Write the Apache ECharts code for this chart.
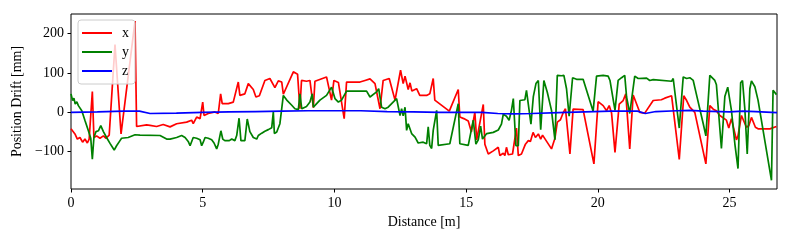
<!DOCTYPE html>
<html>
<head>
<meta charset="utf-8">
<script src="https://cdn.jsdelivr.net/npm/echarts@6/dist/echarts.min.js"></script>
<style>
html,body{margin:0;padding:0;background:#fff;}
#chart{width:790px;height:240px;}
</style>
</head>
<body>
<div id="chart"></div>
<script>
// ---- data (distance in m, drift in mm) ----
const xDist = [0,0.15,0.24,0.34,0.44,0.53,0.62,0.69,0.81,0.87,0.97,1.1,1.23,1.33,1.45,1.67,1.9,2.43,2.49,2.87,3.0,3.25,3.5,3.76,4.01,4.39,4.58,4.64,4.77,4.9,5.0,5.05,5.21,5.46,5.59,5.68,5.74,5.97,6.16,6.35,6.41,6.6,6.73,6.92,7.02,7.15,7.36,7.55,7.74,7.87,8.0,8.06,8.44,8.6,8.69,8.75,8.94,9.07,9.2,9.26,9.7,9.89,9.98,10.15,10.21,10.37,10.46,10.97,11.16,11.22,11.35,11.54,11.73,11.85,12.08,12.3,12.36,12.51,12.61,12.68,12.8,12.87,12.94,13.12,13.24,13.5,13.62,13.75,13.81,14.36,14.7,14.76,14.91,15.08,15.2,15.33,15.4,15.65,15.71,15.84,16.03,16.22,16.28,16.41,16.47,16.53,16.6,16.76,16.81,16.91,16.98,17.1,17.17,17.25,17.36,17.44,17.54,17.63,17.74,17.83,17.9,18.24,18.37,18.46,18.58,18.69,18.77,18.84,18.94,19.06,19.44,19.85,20.01,20.2,20.33,20.43,20.52,20.65,20.81,20.96,21.06,21.21,21.34,21.59,21.78,21.85,22.1,22.41,22.54,22.8,23.09,23.26,23.37,23.49,23.68,24.1,24.25,24.38,24.5,24.63,24.88,24.97,25.07,25.26,25.32,25.45,25.64,25.73,25.83,25.98,26.08,26.53,26.78];
const xVals = [-42,-55,-68,-64,-76,-68,-78,-68,53,-64,-60,-66,-60,-66,-58,172,-55,232,-36,-32,-33,-36,-31,-37,-29,-25,-20,-29,-12,-16,26,-8,-3,1,-3,47,22,22,26,77,43,47,73,58,39,42,81,86,63,80,77,46,103,97,9,81,79,81,12,79,90,31,81,76,75,-16,77,77,81,76,85,73,9,81,86,31,31,107,73,92,58,75,54,60,43,43,47,86,31,3,58,-12,-16,-22,-50,0,-70,20,-81,-106,-98,-89,-110,-104,-110,-89,-108,-106,-108,-40,-110,-106,-110,-81,-72,-74,-51,-64,-55,-68,-58,-93,-66,-25,-19,0,9,6,-106,8,7,-131,27,17,4,17,-2,-102,21,30,47,-93,44,0,-2,-4,30,32,36,42,-120,42,30,13,0,-131,17,8,4,-8,-20,-40,-16,-70,-60,-8,-38,-34,-13,-38,-42,-42,-36];

const yDist = [0,0.06,0.11,0.16,0.22,0.28,0.34,0.41,0.53,0.66,0.75,0.81,0.87,0.95,1.04,1.13,1.23,1.35,1.48,1.64,1.73,1.86,1.92,2.17,2.43,2.62,3.38,3.63,3.76,4.01,4.2,4.33,4.45,4.52,4.64,4.77,4.9,4.96,5.02,5.09,5.21,5.34,5.43,5.53,5.59,5.69,5.76,5.84,6.01,6.1,6.22,6.29,6.38,6.45,6.6,6.69,6.79,6.92,7.05,7.11,7.24,7.36,7.49,7.62,7.68,7.72,7.81,7.93,8.0,8.06,8.19,8.38,8.5,8.63,8.69,8.76,8.94,9.07,9.16,9.2,9.45,9.7,9.89,10.02,10.15,10.27,10.46,11.22,11.35,11.6,11.68,11.79,11.92,12.04,12.36,12.49,12.55,12.61,12.68,12.74,12.8,12.93,13.06,13.18,13.37,13.5,13.56,13.62,13.69,13.75,13.88,13.94,14.38,14.7,14.76,15.08,15.14,15.27,15.37,15.46,15.55,15.62,15.78,16.03,16.22,16.34,16.41,16.53,16.63,16.72,16.79,16.89,16.98,17.04,17.23,17.29,17.36,17.46,17.55,17.65,17.74,17.83,17.95,18.08,18.24,18.37,18.46,18.62,18.71,18.81,18.91,19.04,19.19,19.44,19.82,19.95,20.2,20.39,20.46,20.65,20.77,20.9,21.02,21.09,21.21,21.4,21.53,21.85,21.97,22.1,22.8,22.86,23.09,23.24,23.37,23.49,23.62,23.75,24.0,24.1,24.25,24.44,24.5,24.69,24.82,24.93,25.07,25.2,25.32,25.42,25.49,25.58,25.67,25.77,25.83,25.96,26.08,26.59,26.65,26.78];
const yVals = [47,30,36,21,27,17,20,4,-21,-47,-66,-119,-64,-49,-47,-34,-49,-64,-79,-96,-85,-72,-66,-64,-57,-58,-59,-68,-68,-64,-59,-64,-74,-85,-64,-66,-70,-85,-76,-64,-66,-70,-78,-93,-81,-47,-68,-72,-72,-68,-72,-59,-15,-72,-72,-17,-49,-64,-68,-59,-53,-48,-44,-39,1,-54,-50,-29,-25,43,31,18,9,7,47,9,15,26,47,13,31,43,64,35,26,31,54,54,39,52,60,13,9,13,35,-8,9,-9,13,-46,-29,-54,-63,-78,-76,-80,-37,-84,-92,-46,5,-84,-80,22,-80,-84,-85,-20,-81,-70,-35,-68,-54,-51,-45,-30,-5,-10,-20,5,35,-85,-85,30,32,56,60,-30,40,73,81,-44,81,51,5,-70,94,93,94,60,-10,88,84,84,3,92,94,92,81,5,81,88,94,39,-3,92,86,87,81,83,79,86,-40,90,86,88,81,43,-29,-60,94,81,70,-92,40,64,5,-80,-143,75,81,8,-106,60,80,65,31,-173,56,45];

const zDist = [0,1.0,2.0,2.6,3.0,4.0,5.0,6.0,7.0,8.0,9.0,10.0,11.0,12.0,13.0,14.0,15.0,15.6,16.2,16.8,17.5,18.5,19.5,20.5,21.5,21.8,22.2,23.0,23.5,24.0,25.0,25.5,26.0,26.8];
const zVals = [0,1,3,3,-3,-2,0,1,2,3,4,4,4,2,1,0,0,0,-3,-4,-3,-1,1,3,3,-3,2,4,5,3,1,3,2,-1];

const xTicks = [0,5,10,15,20,25];
const yTicks = [-100,0,100,200];
const legendNames = ['x','y','z'];
const seriesColors = ['#ff0000','#008000','#0000ff'];

function zip(a,b){return a.map((d,i)=>[d,b[i]]);}
const seriesData = [zip(xDist,xVals), zip(yDist,yVals), zip(zDist,zVals)];

const FONT = 'Liberation Serif';
const fmt = v => String(v).replace('-', '\u2212');

const chart = echarts.init(document.getElementById('chart'), null, {renderer:'canvas'});
chart.setOption({
  animation:false,
  backgroundColor:'#fff',
  grid:{left:71,right:13,top:14,bottom:51,show:true,borderColor:'#000',borderWidth:1,backgroundColor:'transparent'},
  legend:{
    orient:'vertical', left:78, top:20,
    data:legendNames.map(n=>({name:n, icon:'rect'})),
    itemWidth:30, itemHeight:2, itemGap:5,
    padding:[6,6,6,4],
    backgroundColor:'rgba(255,255,255,0.8)',
    borderColor:'#cccccc', borderWidth:1, borderRadius:3,
    textStyle:{fontFamily:FONT,fontSize:14,color:'#000',lineHeight:14,padding:[0,0,0,5]}
  },
  xAxis:{
    type:'value', min:0, max:26.8,
    name:'Distance [m]', nameLocation:'middle', nameGap:26,
    nameTextStyle:{fontFamily:FONT,fontSize:14,color:'#000'},
    axisLine:{show:false,onZero:false},
    axisTick:{show:true,length:3.5,lineStyle:{color:'#000',width:1},customValues:xTicks},
    axisLabel:{fontFamily:FONT,fontSize:14,color:'#000',margin:7,customValues:xTicks,formatter:fmt},
    splitLine:{show:false}
  },
  yAxis:{
    type:'value', min:-195, max:250,
    name:'Position Drift [mm]', nameLocation:'middle', nameGap:46,
    nameTextStyle:{fontFamily:FONT,fontSize:14,color:'#000'},
    axisLine:{show:false,onZero:false},
    axisTick:{show:true,length:3.5,lineStyle:{color:'#000',width:1},customValues:yTicks},
    axisLabel:{fontFamily:FONT,fontSize:14,color:'#000',margin:7,customValues:yTicks,formatter:fmt},
    splitLine:{show:false}
  },
  series:legendNames.map((n,i)=>({
    name:n, type:'line', data:seriesData[i], showSymbol:false, symbol:'none',
    lineStyle:{color:seriesColors[i],width:1.7}, itemStyle:{color:seriesColors[i]},
    clip:true, z:2+i
  }))
});
</script>
</body>
</html>
